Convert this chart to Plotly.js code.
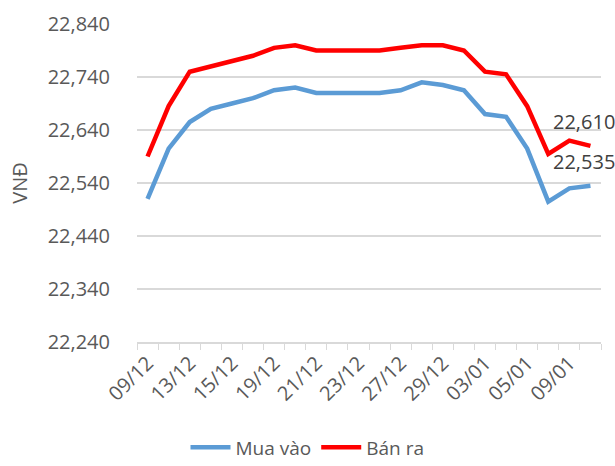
<!DOCTYPE html>
<html>
<head>
<meta charset="utf-8">
<script src="https://cdn.plot.ly/plotly-3.0.1.min.js"></script>
<style>html,body{margin:0;padding:0;background:#fff}#chart{width:615px;height:466px}</style>
</head>
<body>
<div id="chart"></div>
<script>
const categories = ["09/12","12/12","13/12","14/12","15/12","18/12","19/12","20/12","21/12","22/12","23/12","26/12","27/12","28/12","29/12","02/01","03/01","04/01","05/01","08/01","09/01","10/01"];
const muaVao = [22510,22605,22655,22680,22690,22700,22715,22720,22710,22710,22710,22710,22715,22730,22725,22715,22670,22665,22605,22505,22530,22535];
const banRa  = [22590,22685,22750,22760,22770,22780,22795,22800,22790,22790,22790,22790,22795,22800,22800,22790,22750,22745,22685,22595,22620,22610];
const seriesNames = ["Mua vào","Bán ra"];
const yTicks = [22240,22340,22440,22540,22640,22740,22840];

const FONT = "Open Sans, Noto Sans, sans-serif";
const txt = "#595959";
const tickText = categories.map((c,i)=> i%2===0 ? c : "");

const traces = [
  {x:categories, y:muaVao, name:seriesNames[0], type:"scatter", mode:"lines",
   line:{color:"#5b9bd5", width:4.5}},
  {x:categories, y:banRa, name:seriesNames[1], type:"scatter", mode:"lines",
   line:{color:"#ff0000", width:4.5}}
];
const n = categories.length-1;
const fmt = v => v.toLocaleString("en-US");
const layout = {
  width:615, height:466,
  margin:{l:137, r:14, t:24, b:124},
  paper_bgcolor:"#fff", plot_bgcolor:"#fff",
  font:{family:FONT, size:20, color:txt},
  showlegend:true,
  legend:{orientation:"h", x:0.5, xanchor:"center", xref:"container", yref:"container", y:0.04, yanchor:"middle",
          font:{family:FONT, size:19, color:txt}, itemwidth:40},
  xaxis:{type:"category", tickvals:categories, ticktext:tickText, tickangle:-45,
         range:[-0.5, categories.length-0.5],
         showgrid:false, showline:true, linecolor:"#d9d9d9", linewidth:1.5,
         ticks:"outside", tickson:"boundaries", ticklen:6, tickcolor:"#d9d9d9",
         tickfont:{family:FONT, size:20, color:txt}, automargin:false, fixedrange:true},
  yaxis:{range:[22240,22840], tickvals:yTicks, ticktext:yTicks.map(fmt),
         showgrid:true, gridcolor:"#d9d9d9", gridwidth:1.5, zeroline:false,
         showline:false, ticks:"", ticklabelstandoff:26,
         tickfont:{family:FONT, size:20, color:txt},
         title:{text:"VNĐ", font:{family:FONT, size:20, color:txt}, standoff:14},
         automargin:false, fixedrange:true},
  annotations:[
    {x:categories[n], y:banRa[n], text:fmt(banRa[n]), showarrow:false, xshift:-6, yshift:24,
     font:{family:FONT, size:20, color:"#404040"}},
    {x:categories[n], y:muaVao[n], text:fmt(muaVao[n]), showarrow:false, xshift:-6, yshift:24,
     font:{family:FONT, size:20, color:"#404040"}}
  ]
};
Plotly.newPlot("chart", traces, layout, {displayModeBar:false, staticPlot:true});
</script>
</body>
</html>
